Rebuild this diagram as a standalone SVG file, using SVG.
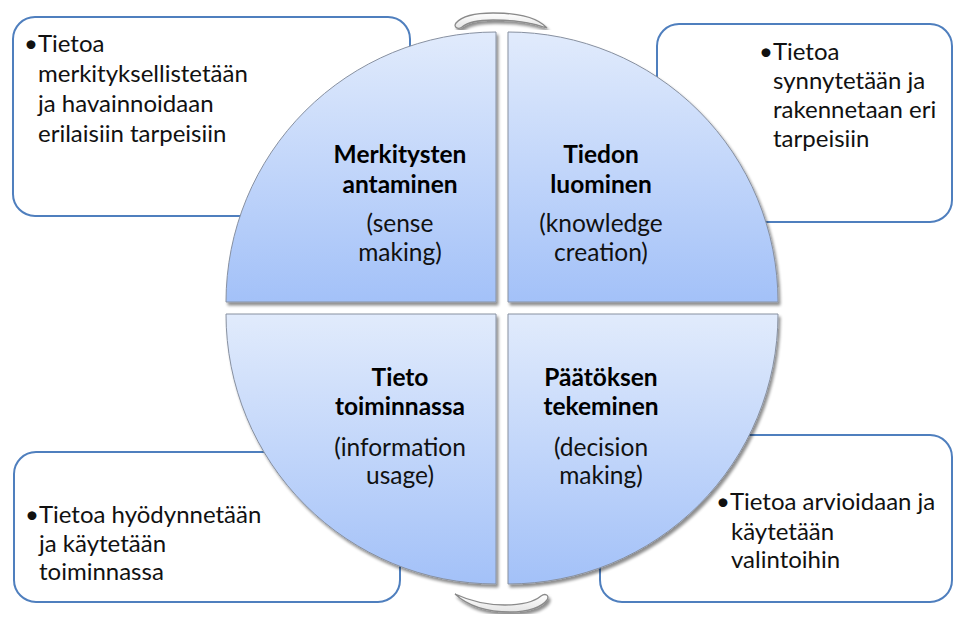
<svg xmlns="http://www.w3.org/2000/svg" width="954" height="617" viewBox="0 0 954 617">
  <defs>
    <linearGradient id="quadFill" x1="0" y1="0" x2="0" y2="1">
      <stop offset="0" stop-color="#e1ebfc"/>
      <stop offset="1" stop-color="#a3c1f8"/>
    </linearGradient>
    <linearGradient id="arrowFill" x1="0" y1="0" x2="0" y2="1">
      <stop offset="0" stop-color="#ffffff"/>
      <stop offset="1" stop-color="#e4e4e4"/>
    </linearGradient>
    <filter id="shadow" x="-10%" y="-10%" width="120%" height="120%">
      <feGaussianBlur in="SourceAlpha" stdDeviation="1.6"/>
      <feOffset dx="1.5" dy="2.5" result="off"/>
      <feComponentTransfer><feFuncA type="linear" slope="0.45"/></feComponentTransfer>
      <feMerge><feMergeNode/><feMergeNode in="SourceGraphic"/></feMerge>
    </filter>
  </defs>
  <style>
    .box { fill: #ffffff; stroke: #4f7fbe; stroke-width: 2; }
    .quad { fill: url(#quadFill); stroke: #8790a0; stroke-width: 1; filter: url(#shadow); }
    .arrow { fill: url(#arrowFill); stroke: #8a8a8a; stroke-width: 1.3; filter: url(#shadow); }
    .note { font-family: Lato, "Liberation Sans", sans-serif; font-size: 24px; fill: #111111; }
    .title { font-family: Lato, "Liberation Sans", sans-serif; font-size: 24.5px; font-weight: bold; fill: #000000; text-anchor: middle; }
    .sub { font-family: Lato, "Liberation Sans", sans-serif; font-size: 24.5px; fill: #111111; text-anchor: middle; }
  </style>

  <!-- callout boxes, partly tucked behind the cycle -->
  <g id="note-sense">
    <rect class="box" x="13" y="17" width="397" height="199" rx="22"/>
    <text class="note" x="24" y="52">•Tietoa</text>
    <text class="note" x="38" y="82">merkityksellistetään</text>
    <text class="note" x="38" y="112">ja havainnoidaan</text>
    <text class="note" x="38" y="142">erilaisiin tarpeisiin</text>
  </g>
  <g id="note-creation">
    <rect class="box" x="657" y="24" width="295" height="198" rx="22"/>
    <text class="note" x="759" y="60">•Tietoa</text>
    <text class="note" x="773" y="89">synnytetään ja</text>
    <text class="note" x="773" y="118">rakennetaan eri</text>
    <text class="note" x="773" y="147">tarpeisiin</text>
  </g>
  <g id="note-usage">
    <rect class="box" x="14" y="452" width="386" height="150" rx="22"/>
    <text class="note" x="25" y="523">•Tietoa hyödynnetään</text>
    <text class="note" x="39" y="552">ja käytetään</text>
    <text class="note" x="39" y="580">toiminnassa</text>
  </g>
  <g id="note-decision">
    <rect class="box" x="600" y="435" width="352" height="167" rx="22"/>
    <text class="note" x="716" y="510">•Tietoa arvioidaan ja</text>
    <text class="note" x="731" y="540">käytetään</text>
    <text class="note" x="731" y="568">valintoihin</text>
  </g>

  <!-- cycle arrows above and below the circle -->
  <g id="connectors">
    <path class="arrow" d="M547,28 C538,18 520,13 493,13 C475,13 462,16 456,23 C453,27 458,30 462,27 C468,22 478,20 493,20 C515,20 531,22 547,28 Z"/>
    <path class="arrow" d="M455,594 C468,606 488,612 510,612 C528,612 542,607 547,600 C550,595 545,593 541,596 C535,601 522,605 505,605 C485,605 470,601 455,594 Z"/>
  </g>

  <!-- four quadrants of the cycle -->
  <g id="quad-sense">
    <path class="quad" d="M496,302 L226,302 A270,270 0 0 1 496,32 Z"/>
    <text class="title" x="400" y="163">Merkitysten</text>
    <text class="title" x="400" y="193">antaminen</text>
    <text class="sub" x="400" y="232">(sense</text>
    <text class="sub" x="400" y="261">making)</text>
  </g>
  <g id="quad-creation">
    <path class="quad" d="M508,302 L508,32 A270,270 0 0 1 778,302 Z"/>
    <text class="title" x="601" y="163">Tiedon</text>
    <text class="title" x="601" y="193">luominen</text>
    <text class="sub" x="601" y="232">(knowledge</text>
    <text class="sub" x="601" y="261">creation)</text>
  </g>
  <g id="quad-usage">
    <path class="quad" d="M496,314 L496,584 A270,270 0 0 1 226,314 Z"/>
    <text class="title" x="400" y="386">Tieto</text>
    <text class="title" x="400" y="415">toiminnassa</text>
    <text class="sub" x="400" y="456">(information</text>
    <text class="sub" x="400" y="484">usage)</text>
  </g>
  <g id="quad-decision">
    <path class="quad" d="M508,314 L778,314 A270,270 0 0 1 508,584 Z"/>
    <text class="title" x="601" y="386">Päätöksen</text>
    <text class="title" x="601" y="415">tekeminen</text>
    <text class="sub" x="601" y="456">(decision</text>
    <text class="sub" x="601" y="484">making)</text>
  </g>
</svg>
